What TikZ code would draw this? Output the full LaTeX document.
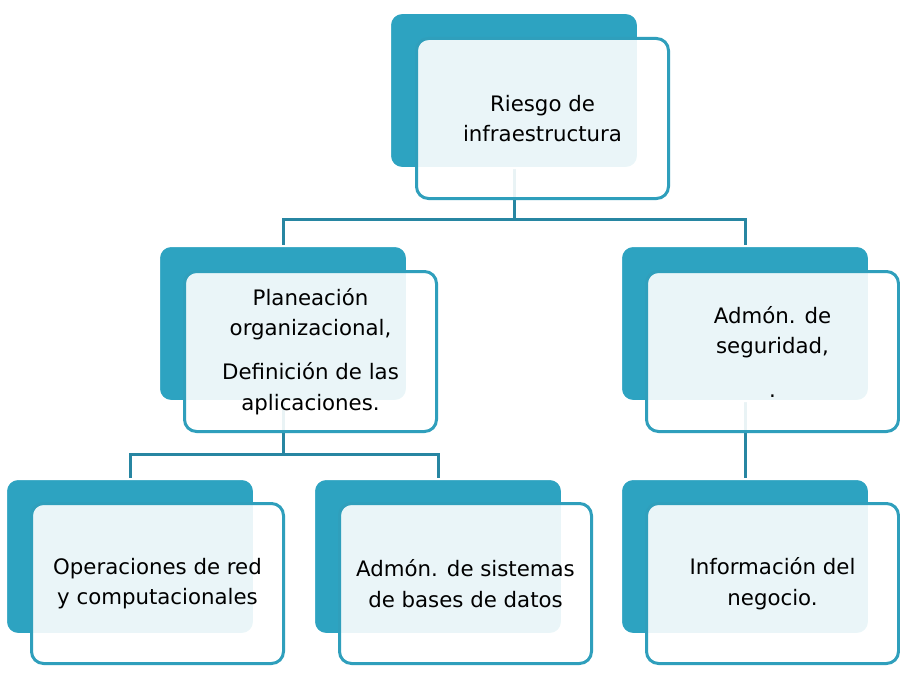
\documentclass[tikz,border=0pt]{standalone}
\usepackage{fontspec}
\setmainfont{DejaVu Sans}
\usetikzlibrary{backgrounds}
\definecolor{tealfill}{HTML}{2DA3C1}
\definecolor{tealline}{HTML}{2F9FBC}
\definecolor{connline}{HTML}{2786A2}
\begin{document}
\begin{tikzpicture}[x=1bp,y=-1bp,
  backbox/.style={rectangle, rounded corners=12bp, fill=tealfill, draw=white, line width=2bp,
    minimum width=248bp, minimum height=155bp, anchor=north west, inner sep=0pt},
  frontbox/.style={rectangle, rounded corners=12bp, fill=white, fill opacity=0.9, text opacity=1,
    draw=tealline, draw opacity=1, line width=3bp, minimum width=252bp, minimum height=160bp,
    anchor=north west, align=center, font=\fontsize{21.3bp}{30.5bp}\selectfont, text=black, inner sep=0pt},
  link/.style={draw=connline, line width=3bp}]
\useasboundingbox (0,0) rectangle (900,680);

\node[backbox] (topb) at (389,12) {};
\node[frontbox] (top) at (415,37) {Riesgo de\\infraestructura};

\node[backbox] (mlb) at (158,245) {};
\node[frontbox] (ml) at (183,270) {Planeación\\organizacional,\\[13.5bp]Definición de las\\aplicaciones.};

\node[backbox] (mrb) at (620,245) {};
\node[frontbox] (mr) at (645,270) {Admón. de\\seguridad,\\[13bp].};

\node[backbox] (b1b) at (5,478) {};
\node[frontbox] (b1) at (30,502) {Operaciones de red\\y computacionales};

\node[backbox] (b2b) at (313,478) {};
\node[frontbox] (b2) at (338,502) {Admón. de sistemas\\de bases de datos};

\node[backbox] (b3b) at (620,478) {};
\node[frontbox] (b3) at (645,502) {Información del\\negocio.};

\begin{scope}[on background layer]
  \fill[white] (0,0) rectangle (900,680);
  \path (topb.south) ++(0,50) coordinate (j1);
  \path (mlb.south) ++(0,52) coordinate (j2);
  \draw[link] (topb.south) -- (j1) -| (mlb.north);
  \draw[link] (j1) -| (mrb.north);
  \draw[link] (mlb.south) -- (j2) -| (b1b.north);
  \draw[link] (j2) -| (b2b.north);
  \draw[link] (mrb.south) -- (b3b.north);
\end{scope}
\end{tikzpicture}
\end{document}
